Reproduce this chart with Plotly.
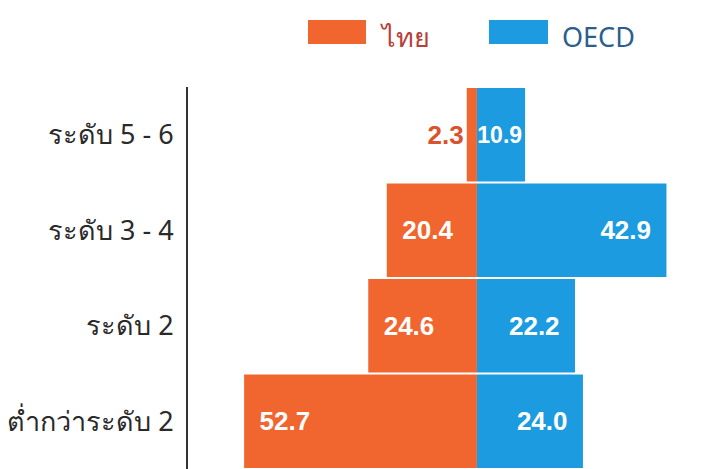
import plotly.graph_objects as go

categories = ["ระดับ 5 - 6", "ระดับ 3 - 4", "ระดับ 2", "ต่ำกว่าระดับ 2"]
thai_values = [2.3, 20.4, 24.6, 52.7]
oecd_values = [10.9, 42.9, 22.2, 24.0]
series_names = ["ไทย", "OECD"]

ORANGE = "#F1662F"
BLUE = "#1C9BE0"

W, H = 704, 469
L, T, B = 188, 87, 0
PW = W - L
PH = H - T - B

PAD = "\u00a0\u2009"
NUM_FONT = "Liberation Sans, Arial, sans-serif"

fig = go.Figure()
fig.add_trace(go.Bar(
    y=categories, x=[-v for v in thai_values], orientation="h",
    name=series_names[0], marker=dict(color=ORANGE, line=dict(width=0)),
    text=[f"{v:.1f}" for v in thai_values],
    texttemplate=["<b>%{text}</b>"] + [PAD + "<b>%{text}</b>"] * 3,
    textposition=["outside", "inside", "inside", "inside"],
    insidetextanchor="end", textangle=0,
    textfont=dict(family=NUM_FONT, size=26,
                  color=["#D9532C", "white", "white", "white"]),
    cliponaxis=False, showlegend=False,
))
fig.add_trace(go.Bar(
    y=categories, x=oecd_values, orientation="h",
    name=series_names[1], marker=dict(color=BLUE, line=dict(width=0)),
    text=[f"{v:.1f}" for v in oecd_values],
    texttemplate=["<b>%{text}</b>"] + ["<b>%{text}</b>" + PAD] * 3,
    textposition="inside", insidetextanchor="end", textangle=0,
    constraintext="none",
    textfont=dict(family=NUM_FONT, size=[23, 26, 26, 26], color="white"),
    showlegend=False,
))

fig.update_layout(
    width=W, height=H,
    margin=dict(l=L, r=0, t=T, b=B),
    paper_bgcolor="white", plot_bgcolor="white",
    barmode="relative", bargap=0.02,
    xaxis=dict(range=[-65.4, 51.4], visible=False, fixedrange=True),
    yaxis=dict(categoryorder="array", categoryarray=categories, autorange="reversed",
               showline=True, linecolor="#333333", linewidth=2, ticks="",
               ticklabelstandoff=7, showgrid=False, zeroline=False,
               tickfont=dict(family="Noto Sans, Tahoma, sans-serif", size=27, color="#2a2a2a")),
    showlegend=False,
)

def px_x(p):
    return (p - L) / PW

def px_y(p):
    return (H - B - p) / PH

legend_items = [
    (series_names[0], ORANGE, 308, 366, 378, "#B5423A"),
    (series_names[1], BLUE, 489, 548, 560, "#2B5E8C"),
]
for name, col, x0, x1, tx, tcol in legend_items:
    fig.add_shape(type="rect", xref="paper", yref="paper",
                  x0=px_x(x0), x1=px_x(x1), y0=px_y(44), y1=px_y(20),
                  fillcolor=col, line=dict(width=0))
    fig.add_annotation(xref="paper", yref="paper", x=px_x(tx), y=px_y(36),
                       xanchor="left", yanchor="middle", showarrow=False,
                       text=name, font=dict(family="Noto Sans, Tahoma, sans-serif",
                                            size=27, color=tcol))

fig.write_html("out.html")
